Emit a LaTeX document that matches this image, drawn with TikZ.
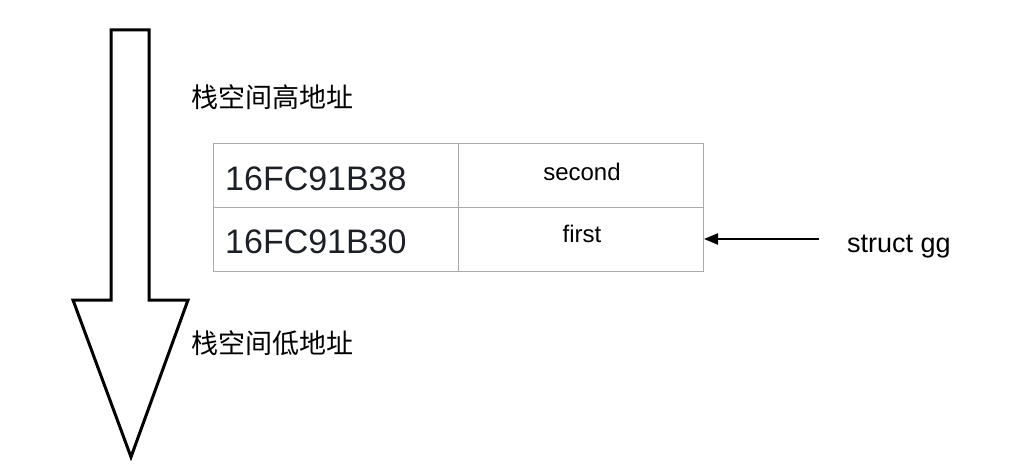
\documentclass[tikz,border=0pt]{standalone}
\usepackage{fontspec}
\setmainfont{Liberation Sans}
\newfontfamily\cjk{Noto Sans CJK SC}
\usetikzlibrary{arrows.meta}
\definecolor{gridgray}{RGB}{170,170,170}
\definecolor{addrtext}{RGB}{28,32,38}
\tikzset{
  bigarrow/.style={draw=black, line width=3pt, fill=white, line join=miter},
  cell/.style={draw=gridgray, line width=1pt},
  addr/.style={font=\fontsize{34}{38}\selectfont, text=addrtext, anchor=west, inner sep=0},
  val/.style={font=\fontsize{24}{28}\selectfont, inner sep=0},
  cn/.style={font=\cjk\fontsize{27}{30}\selectfont, anchor=west, inner sep=0},
  lbl/.style={font=\fontsize{27}{30}\selectfont, anchor=west, inner sep=0},
  ptr/.style={draw=black, line width=2.2pt, -{Triangle[length=14pt,width=11pt]}}
}
\begin{document}
\begin{tikzpicture}[x=1pt,y=-1pt]
\useasboundingbox (0,0) rectangle (1012,468);
% big down arrow
\draw[bigarrow] (111,30) -- (149,30) -- (149,300) -- (188,300) -- (131,457) -- (73,300) -- (111,300) -- cycle;
% labels
\node[cn] (hi) at (191,97) {栈空间高地址};
\node[cn] (lo) at (191,343) {栈空间低地址};
% table
\draw[cell] (213,144) rectangle (703,271);
\draw[cell] (213,207) -- (703,207);
\draw[cell] (458,144) -- (458,271);
\coordinate (rowb) at (704,239);
\node[addr] (a1) at (225,179) {16FC91B38};
\node[addr] (a2) at (225,242) {16FC91B30};
\node[val] (v1) at (582,172) {second};
\node[val] (v2) at (582,234) {first};
% pointer
\node[lbl] (gg) at (847,247) {struct gg};
\coordinate (ps) at (819,239);
\draw[ptr] (ps) -- (rowb);
\end{tikzpicture}
\end{document}
